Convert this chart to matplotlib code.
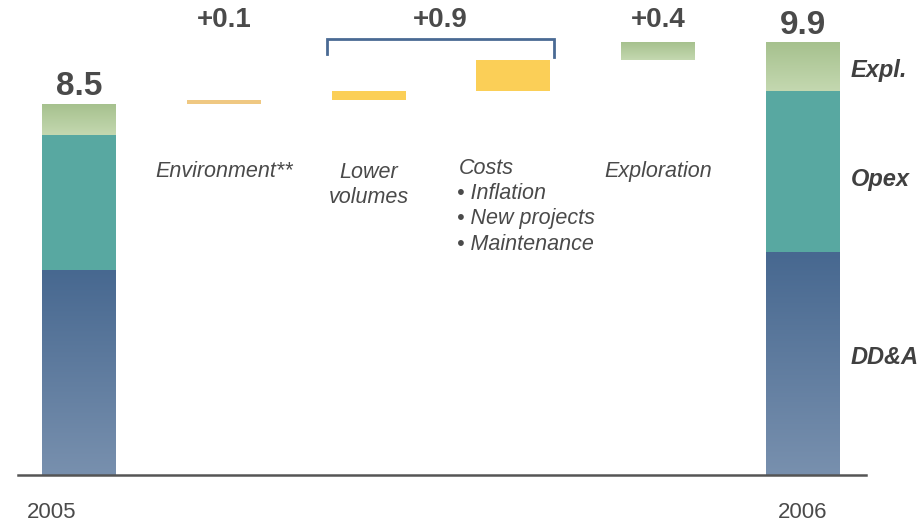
import numpy as np
import matplotlib
matplotlib.use("Agg")
import matplotlib.pyplot as plt
from matplotlib.colors import to_rgb

plt.rcParams['font.family'] = ['Liberation Sans', 'DejaVu Sans']

# ---- data ----
years = ["2005", "2006"]
dda = [4.7, 5.1]
opex = [3.1, 3.7]
expl = [0.7, 1.1]
totals = [8.5, 9.9]

step_names = ["Environment**", "Lower\nvolumes", "Costs", "Exploration"]
step_vals = [0.1, 0.2, 0.7, 0.4]
step_labels = ["+0.1", "", "", "+0.4"]
bracket_label = "+0.9"
cost_items = ["Inflation", "New projects", "Maintenance"]
seg_names = ["Expl.", "Opex", "DD&A"]

# ---- colours ----
blue_top, blue_bot = "#476890", "#7890ae"
teal = "#58a8a1"
green_top, green_bot = "#a6c18e", "#c4d8b0"
step_colors = ["#efc882", "#fbcf57", "#fbcf57", None]
txt = "#4a4a4a"
W = 0.51

fig = plt.figure(figsize=(9.21, 5.25), dpi=100)
ax = fig.add_axes([0, 0, 1, 1])
ax.set_xlim(-0.5456, 5.815)
ax.set_ylim(-1.145, 10.882)
ax.axis("off")


def grad_bar(x, bottom, height, ctop, cbot):
    n = 100
    t = np.linspace(0, 1, n)[:, None]
    a, b = np.array(to_rgb(ctop)), np.array(to_rgb(cbot))
    img = (a * (1 - t) + b * t)[:, None, :]
    ax.imshow(img, extent=(x - W / 2, x + W / 2, bottom, bottom + height),
              aspect="auto", origin="upper", interpolation="bilinear", zorder=2)


# start/end bars
xpos = [0, 5]
year_x = [-0.19, 5]
for i, x in enumerate(xpos):
    grad_bar(x, 0, dda[i], blue_top, blue_bot)
    ax.bar(x, opex[i], W, bottom=dda[i], color=teal, zorder=2)
    grad_bar(x, dda[i] + opex[i], expl[i], green_top, green_bot)
    ax.text(x, totals[i] + 0.40, f"{totals[i]:.1f}", ha="center", va="center",
            fontsize=24, fontweight="bold", color=txt)
    ax.text(year_x[i], -0.87, years[i], ha="center", va="center", fontsize=16,
            color=txt)

# steps
level = totals[0]
for i, v in enumerate(step_vals):
    x = i + 1
    if step_colors[i] is None:
        grad_bar(x, level, v, green_top, green_bot)
    else:
        ax.bar(x, v, W, bottom=level, color=step_colors[i], zorder=2)
    level += v
    if step_labels[i]:
        ax.text(x, 10.43, step_labels[i], ha="center", va="center",
                fontsize=20, fontweight="bold", color=txt)

# bracket over the two cost steps
bx0, bx1 = 2 - 0.29, 3 + 0.28
ax.plot([bx0, bx0, bx1, bx1], [9.65, 9.99, 9.99, 9.58], color="#4a6a94", lw=2,
        solid_joinstyle="miter", zorder=3)
ax.text((bx0 + bx1) / 2, 10.43, bracket_label, ha="center", va="center",
        fontsize=20, fontweight="bold", color=txt)

# category labels
fs = 15.5
ax.text(1, 6.96, step_names[0], ha="center", va="center", fontsize=fs,
        style="italic", color=txt)
ax.text(2, 6.64, step_names[1], ha="center", va="center", fontsize=fs,
        style="italic", color=txt, linespacing=1.25)
ax.text(2.625, 7.03, step_names[2], ha="left", va="center", fontsize=fs,
        style="italic", color=txt)
for k, item in enumerate(cost_items):
    ax.text(2.61, 6.46 - k * 0.585, "\u2022 " + item, ha="left", va="center",
            fontsize=fs, style="italic", color=txt)
ax.text(4, 6.96, step_names[3], ha="center", va="center", fontsize=fs,
        style="italic", color=txt)

# segment labels on right
seg_y = [9.26, 6.78, 2.70]
for name, y in zip(seg_names, seg_y):
    ax.text(5.33, y, name, ha="left", va="center", fontsize=17,
            fontweight="bold", style="italic", color="#404040")

# baseline
ax.plot([-0.42, 5.435], [0, 0], color="#555555", lw=1.8, zorder=3)

fig.savefig("out.png", dpi=100)
